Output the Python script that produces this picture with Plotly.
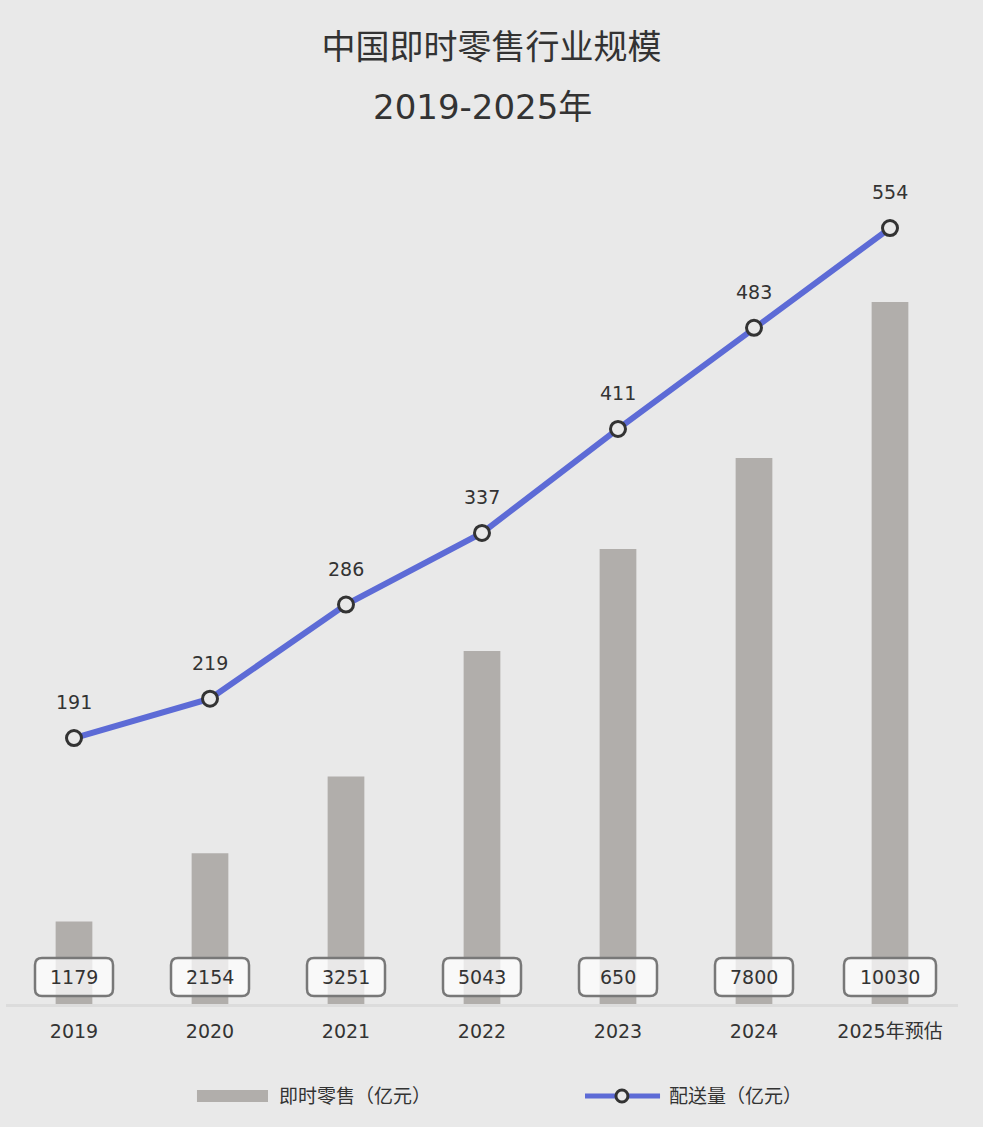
import plotly.graph_objects as go

categories = ["2019", "2020", "2021", "2022", "2023", "2024", "2025年预估"]
retail_values = [1179, 2154, 3251, 5043, 6500, 7800, 10030]
retail_labels = ["1179", "2154", "3251", "5043", "650", "7800", "10030"]
delivery_values = [191, 219, 286, 337, 411, 483, 554]
series_names = ["即时零售（亿元）", "配送量（亿元）"]

BG = "#e9e9e9"
BAR = "#b1aeab"
BLUE = "#5d6bd6"
TXT = "#333333"
FONT = "DejaVu Sans, Noto Sans CJK SC, sans-serif"

fig = go.Figure()
fig.add_trace(go.Bar(
    x=categories, y=retail_values, name=series_names[0],
    marker=dict(color=BAR, line=dict(width=0)), width=0.27, yaxis="y",
))
fig.add_trace(go.Scatter(
    x=categories, y=delivery_values, name=series_names[1], mode="lines+markers",
    line=dict(color=BLUE, width=6),
    marker=dict(size=15, color=BG, line=dict(color=TXT, width=3)),
    yaxis="y2",
))

annotations = []
shapes = []
for i, (c, v, lab) in enumerate(zip(categories, retail_values, retail_labels)):
    w = (14 * len(str(v)) + 22) / 2
    h = 19
    cy = 27
    r = 7
    path = (f"M {-w + r},{cy - h} L {w - r},{cy - h} Q {w},{cy - h} {w},{cy - h + r} "
            f"L {w},{cy + h - r} Q {w},{cy + h} {w - r},{cy + h} "
            f"L {-w + r},{cy + h} Q {-w},{cy + h} {-w},{cy + h - r} "
            f"L {-w},{cy - h + r} Q {-w},{cy - h} {-w + r},{cy - h} Z")
    shapes.append(dict(type="path", xref="x", yref="y", xsizemode="pixel", ysizemode="pixel",
                       xanchor=i, yanchor=0, path=path,
                       fillcolor="rgba(255,255,255,0.72)", line=dict(color="#787878", width=2.5),
                       layer="above"))
    annotations.append(dict(x=i, y=0, xref="x", yref="y", text=lab, showarrow=False,
                            yshift=cy, font=dict(size=19, color=TXT, family=FONT)))

for i, v in enumerate(delivery_values):
    annotations.append(dict(x=i, y=v, xref="x", yref="y2", text=str(v), showarrow=False,
                            yshift=36, font=dict(size=19, color=TXT, family=FONT)))

annotations.append(dict(x=0.5, y=1, xref="paper", yref="paper", text="2019-2025年",
                        showarrow=False, yshift=57, yanchor="middle",
                        font=dict(size=34, color=TXT, family=FONT)))

# custom legend (paper coordinates)
LEG_Y = -0.1095
shapes.append(dict(type="rect", xref="paper", yref="paper", x0=0.2006, x1=0.2752,
                   y0=LEG_Y - 0.0071, y1=LEG_Y + 0.0071, fillcolor=BAR, line=dict(width=0)))
annotations.append(dict(x=0.2847, y=LEG_Y, xref="paper", yref="paper", text=series_names[0],
                        showarrow=False, xanchor="left", yanchor="middle",
                        font=dict(size=19, color=TXT, family=FONT)))
shapes.append(dict(type="line", xref="paper", yref="paper", x0=0.6082, x1=0.6870,
                   y0=LEG_Y, y1=LEG_Y, line=dict(color=BLUE, width=5)))
shapes.append(dict(type="circle", xref="paper", yref="paper", xsizemode="pixel", ysizemode="pixel",
                   xanchor=0.647, yanchor=LEG_Y, x0=-6, x1=6, y0=-6, y1=6,
                   fillcolor=BG, line=dict(color=TXT, width=3)))
annotations.append(dict(x=0.6943, y=LEG_Y, xref="paper", yref="paper", text=series_names[1],
                        showarrow=False, xanchor="left", yanchor="middle",
                        font=dict(size=19, color=TXT, family=FONT)))

fig.update_layout(
    width=983, height=1127,
    paper_bgcolor=BG, plot_bgcolor=BG,
    margin=dict(l=6, r=25, t=164, b=123),
    title=dict(text="中国即时零售行业规模", x=0.5, xanchor="center", y=1 - 47 / 1127,
               yanchor="middle", font=dict(size=34, color=TXT, family=FONT)),
    font=dict(family=FONT, color=TXT, size=18),
    xaxis=dict(type="category", showgrid=False, showline=True, linecolor="#dcdcdc", linewidth=3,
               ticks="outside", ticklen=8, tickcolor="rgba(0,0,0,0)",
               tickfont=dict(size=19, color=TXT), zeroline=False),
    yaxis=dict(range=[0, 12000], visible=False, showgrid=False),
    yaxis2=dict(range=[1.7, 599.6], overlaying="y", visible=False, showgrid=False),
    showlegend=False,
    shapes=shapes, annotations=annotations,
)

fig.write_html("out.html")
